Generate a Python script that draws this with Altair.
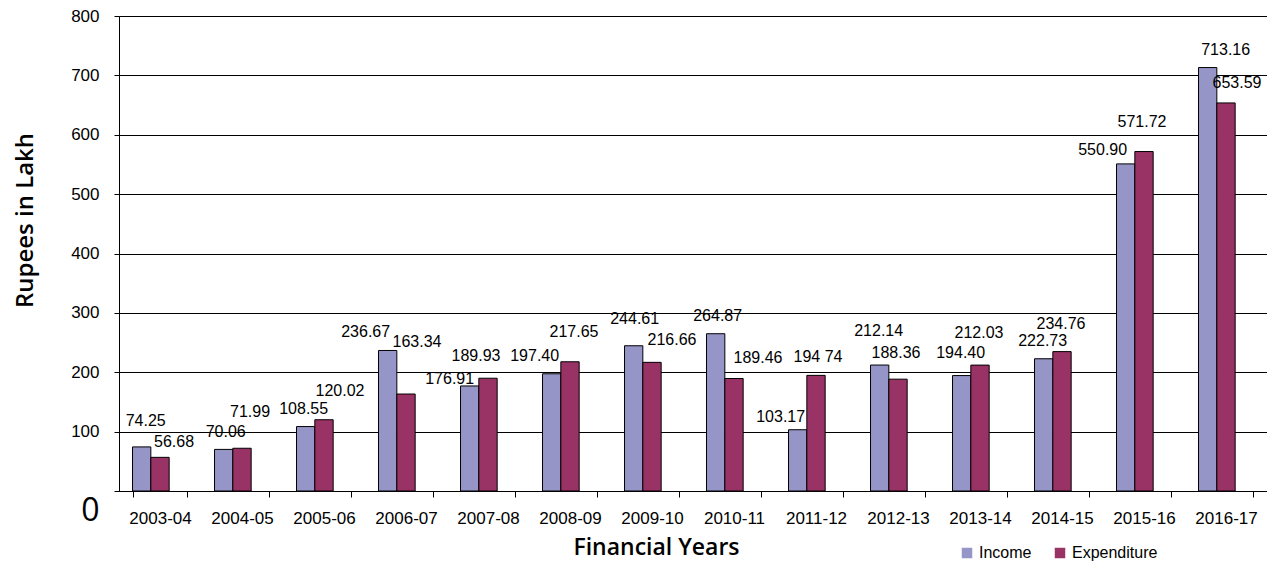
import altair as alt
import pandas as pd

years = ["2003-04", "2004-05", "2005-06", "2006-07", "2007-08", "2008-09", "2009-10",
         "2010-11", "2011-12", "2012-13", "2013-14", "2014-15", "2015-16", "2016-17"]
income = [74.25, 70.06, 108.55, 236.67, 176.91, 197.40, 244.61,
          264.87, 103.17, 212.14, 194.40, 222.73, 550.90, 713.16]
expenditure = [56.68, 71.99, 120.02, 163.34, 189.93, 217.65, 216.66,
               189.46, 194.74, 188.36, 212.03, 234.76, 571.72, 653.59]
income_labels = ["74.25", "70.06", "108.55", "236.67", "176.91", "197.40", "244.61",
                 "264.87", "103.17", "212.14", "194.40", "222.73", "550.90", "713.16"]
expenditure_labels = ["56.68", "71.99", "120.02", "163.34", "189.93", "217.65", "216.66",
                      "189.46", "194 74", "188.36", "212.03", "234.76", "571.72", "653.59"]

# label nudges (pixels, relative to the top centre of each bar)
income_nudge_x = [4, 2, -2, -22, -20, -17, 1, 2, -17, -1, -1, -1, -23, 18]
income_nudge_y = [-26, -17, -18, -18, -7, -18, -27, -18, -13, -34, -23, -18, -14, -18]
exp_nudge_x = [14, 8, 16, 11, -12, 4, 20, 24, 2, -2, -1, -1, -2, 11]
exp_nudge_y = [-15, -36, -29, -52, -22, -30, -22, -21, -18, -26, -32, -28, -30, -20]

series = ["Income", "Expenditure"]
colors = ["#9595C8", "#993366"]

rows = []
for i, yr in enumerate(years):
    rows.append(dict(year=yr, series="Income", value=income[i], label=income_labels[i],
                     ndx=income_nudge_x[i], ndy=income_nudge_y[i]))
    rows.append(dict(year=yr, series="Expenditure", value=expenditure[i], label=expenditure_labels[i],
                     ndx=exp_nudge_x[i], ndy=exp_nudge_y[i]))
df = pd.DataFrame(rows)

x = alt.X("year:N", sort=years, title="Financial Years",
          scale=alt.Scale(paddingInner=0.33, paddingOuter=0.165),
          axis=alt.Axis(labelAngle=0, labelFont="Liberation Sans", labelFontSize=17,
                        labelColor="black", labelPadding=13, tickSize=6, tickColor="black",
                        tickBand="extent", domainColor="black",
                        titleFont="Open Sans", titleFontSize=23, titleFontWeight=600,
                        titleColor="black", titleX=537, titleY=56,
                        titleAlign="center", titleBaseline="middle"))
xoff = alt.XOffset("series:N",
                   scale=alt.Scale(domain=["Income", "Expenditure", "blank"],
                                   paddingInner=0, paddingOuter=0))
y = alt.Y("value:Q", title="Rupees in Lakh",
          scale=alt.Scale(domain=[0, 800], nice=False),
          axis=alt.Axis(values=[0, 100, 200, 300, 400, 500, 600, 700, 800],
                        labelFont={"condition": {"test": "datum.value === 0", "value": "Open Sans"},
                                   "value": "Liberation Sans"},
                        labelFontSize={"condition": {"test": "datum.value === 0", "value": 32},
                                       "value": 17},
                        labelOffset={"condition": {"test": "datum.value === 0", "value": 19},
                                     "value": 0},
                        labelColor="black", labelPadding=15, tickSize=5, tickColor="black",
                        domainColor="black", grid=True, gridColor="black", gridOpacity=1,
                        titleFont="Open Sans", titleFontSize=24, titleFontWeight=600,
                        titleColor="black", titleX=-94, titleY=204, titleAngle=270,
                        titleAlign="center", titleBaseline="middle"))
color = alt.Color("series:N",
                  scale=alt.Scale(domain=series, range=colors),
                  legend=alt.Legend(title=None, orient="none", legendX=840, legendY=529,
                                    direction="horizontal", symbolType="square",
                                    symbolSize=110, symbolStrokeWidth=0,
                                    labelFont="Liberation Sans", labelFontSize=16,
                                    labelColor="black", columnPadding=20, labelOffset=4))

bars = alt.Chart(df).mark_bar(stroke="black", strokeWidth=1).encode(
    x=x, xOffset=xoff, y=y, color=color)

labels = alt.Chart(df).mark_text(
    font="Liberation Sans", fontSize=16, color="black", align="center", baseline="middle",
    dx=alt.ExprRef("datum.ndx"), dy=alt.ExprRef("datum.ndy")
).encode(x=x, xOffset=xoff, y=y, text="label:N")

chart = alt.layer(bars, labels).properties(
    width=1148, height=475,
    autosize=alt.AutoSizeParams(type="none"),
    padding={"left": 111, "top": 8, "right": 0, "bottom": 71},
    background="white",
).configure_view(stroke="#888888")

chart.save("out.html", embed_options={"renderer": "svg", "actions": False})
